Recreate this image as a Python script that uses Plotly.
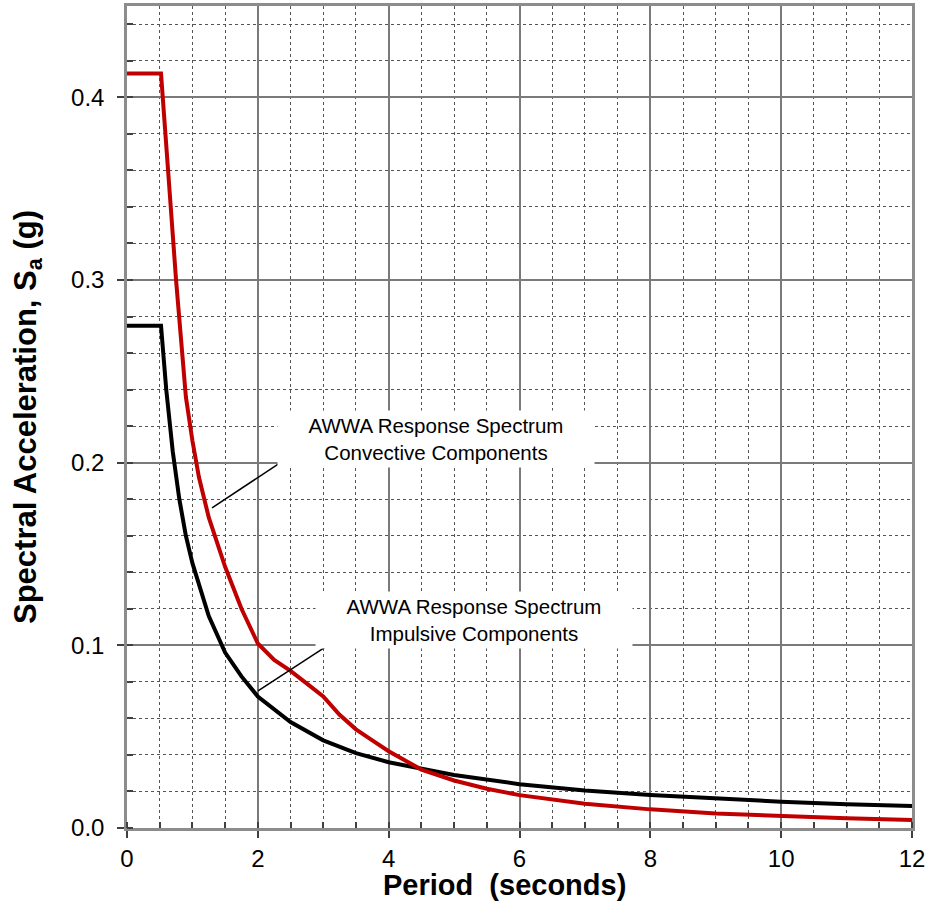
import plotly.graph_objects as go

# Period (s) and spectral acceleration (g)
period_conv = [0, 0.52, 0.75, 0.9, 1.0, 1.1, 1.25, 1.5, 1.75, 2.0, 2.25, 2.5, 2.75, 3.0,
               3.25, 3.5, 3.75, 4.0, 4.5, 5.0, 5.5, 6.0, 7.0, 8.0, 9.0, 10.0, 11.0, 12.0]
sa_conv = [0.413, 0.413, 0.300, 0.236, 0.212, 0.192, 0.170, 0.143, 0.120, 0.101, 0.092,
           0.086, 0.079, 0.072, 0.062, 0.054, 0.048, 0.042, 0.032, 0.026, 0.0215, 0.018,
           0.0133, 0.0102, 0.0080, 0.0064, 0.0053, 0.0044]

period_imp = [0, 0.52, 0.6, 0.7, 0.8, 0.9, 1.0, 1.25, 1.5, 1.75, 2.0, 2.5, 3.0, 3.5, 4.0,
              5.0, 6.0, 7.0, 8.0, 9.0, 10.0, 11.0, 12.0]
sa_imp = [0.275, 0.275, 0.240, 0.206, 0.180, 0.160, 0.145, 0.116, 0.096, 0.083, 0.072,
          0.058, 0.048, 0.041, 0.036, 0.029, 0.024, 0.0205, 0.018, 0.016, 0.0144, 0.013,
          0.012]

x_ticks = [0, 2, 4, 6, 8, 10, 12]
y_ticks = [0.0, 0.1, 0.2, 0.3, 0.4]

x_title = "<b>Period  (seconds)</b>"
y_title = "<b>Spectral Acceleration, S<sub>a</sub> (g)</b>"
label_conv = "AWWA Response Spectrum<br>Convective Components"
label_imp = "AWWA Response Spectrum<br>Impulsive Components"

# annotation placement (layout)
conv_box = (4.72, 0.213)
conv_leader = ((2.645, 0.2071), (1.30, 0.1753))
imp_box = (5.31, 0.114)
imp_leader = ((3.364, 0.1068), (2.003, 0.0751))

FONT = "Liberation Sans, Arial"

fig = go.Figure()
fig.add_trace(go.Scatter(x=period_imp, y=sa_imp, mode="lines",
                         line=dict(color="#000000", width=4), showlegend=False))
fig.add_trace(go.Scatter(x=period_conv, y=sa_conv, mode="lines",
                         line=dict(color="#C00000", width=4), showlegend=False))

for (x0, y0), (x1, y1) in [conv_leader, imp_leader]:
    fig.add_shape(type="line", x0=x0, y0=y0, x1=x1, y1=y1, xref="x", yref="y",
                  line=dict(color="#000000", width=1.5), layer="above")

for (bx, by), txt in [(conv_box, label_conv), (imp_box, label_imp)]:
    fig.add_annotation(x=bx, y=by, xref="x", yref="y", text=txt, showarrow=False,
                       bgcolor="#FFFFFF", width=314, height=54, borderpad=1,
                       align="center",
                       font=dict(family=FONT, size=20.5, color="#000000"))

# x-axis title (slightly left of plot centre as in the reference)
fig.add_annotation(x=0.4815, y=-0.0695, xref="paper", yref="paper", text=x_title,
                   showarrow=False, xanchor="center", yanchor="middle",
                   font=dict(family=FONT, size=29, color="#000000"))

fig.update_xaxes(
    range=[0, 12], tickvals=x_ticks, ticks="outside", ticklen=7, tickwidth=1.5,
    tickcolor="#404040",
    showgrid=True, gridcolor="#7a7a7a", gridwidth=1.5,
    showline=True, linecolor="#8c8c8c", linewidth=2.5, mirror=True,
    zeroline=False,
    minor=dict(dtick=0.5, showgrid=True, gridcolor="#555555", griddash="dot",
               gridwidth=1, ticks="inside", ticklen=6, tickcolor="#404040"),
    tickfont=dict(family=FONT, size=24, color="#000000"),
)
fig.update_yaxes(
    range=[0, 0.45], tickvals=y_ticks, tickformat=".1f", ticks="outside", ticklen=7,
    tickwidth=1.5, tickcolor="#404040", ticklabelstandoff=8,
    showgrid=True, gridcolor="#7a7a7a", gridwidth=1.5,
    showline=True, linecolor="#8c8c8c", linewidth=2.5, mirror=True,
    zeroline=True, zerolinecolor="#404040", zerolinewidth=2.5,
    minor=dict(dtick=0.02, showgrid=True, gridcolor="#555555", griddash="dot",
               gridwidth=1, ticks="inside", ticklen=6, tickcolor="#404040"),
    tickfont=dict(family=FONT, size=24, color="#000000"),
    title=dict(text=y_title, standoff=26,
               font=dict(family=FONT, size=31, color="#000000")),
)

fig.update_layout(
    width=930, height=909,
    margin=dict(l=127, r=18, t=6, b=81, pad=0, autoexpand=False),
    plot_bgcolor="#FFFFFF", paper_bgcolor="#FFFFFF",
    showlegend=False,
)

fig.write_html("out.html", config={"displayModeBar": False},
               post_script="document.body.style.margin='0';document.body.style.padding='0';")
